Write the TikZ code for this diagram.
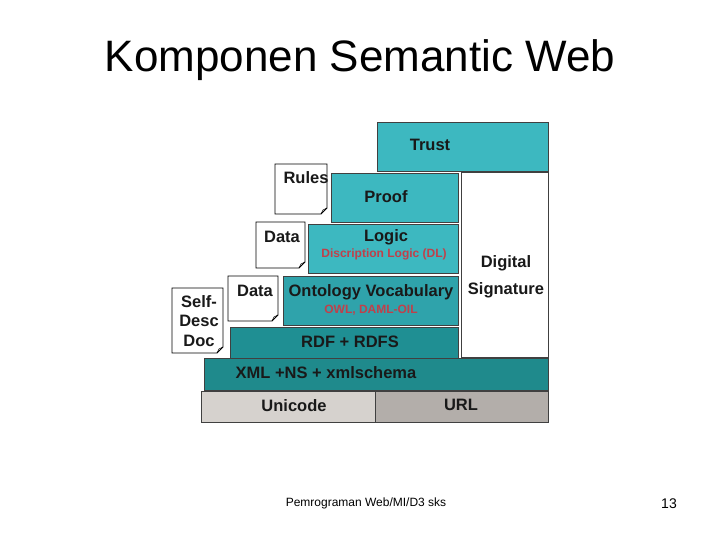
\documentclass[tikz,border=0pt]{standalone}
\usepackage{fontspec}
\setmainfont{Liberation Sans}
\definecolor{tealA}{HTML}{3DB8C0}
\definecolor{tealB}{HTML}{2FA3AB}
\definecolor{tealC}{HTML}{1F8F93}
\definecolor{tealD}{HTML}{1F8A8C}
\definecolor{greyA}{HTML}{D6D2CE}
\definecolor{greyB}{HTML}{B3AEAA}
\definecolor{subred}{HTML}{C0404A}
\tikzset{
  layer/.style={draw=black!75, line width=0.8pt},
  doc/.style={draw=black, line width=0.8pt, fill=white},
  lbl/.style={font=\fontsize{16.5}{17}\selectfont\bfseries, text=black!90, inner sep=0pt},
  sublbl/.style={font=\fontsize{12}{13}\selectfont\bfseries, text=subred, inner sep=0pt},
}
% page with a folded corner: x1,y1,x2,y2
\newcommand{\docpage}[4]{
  \draw[doc] (#1,#2) -- (#3,#2) -- (#3,#4-6) -- (#3-6,#4) -- (#1,#4) -- cycle;
  \draw[line width=0.6pt] (#3-6,#4) -- (#3-4,#4-4) -- (#3,#4-6);
}
\begin{document}
\begin{tikzpicture}[x=1pt,y=-1pt]
\useasboundingbox (0,0) rectangle (720,540);

\node (title) at (360,60) {\fontsize{44}{48}\selectfont Komponen Semantic Web};

% documents on the left
\docpage{275}{164}{327}{214}
\docpage{256}{222}{305}{268}
\docpage{228}{276}{278}{321}
\docpage{172}{288}{223}{353}

% layers
\draw[layer, fill=tealA] (377,122) rectangle (548,171);
\draw[layer, fill=white] (461,172) rectangle (548,357);
\draw[layer, fill=tealA] (331,173) rectangle (458,222);
\draw[layer, fill=tealA] (308,224) rectangle (458,273);
\draw[layer, fill=tealB] (283,276) rectangle (458,325);
\draw[layer, fill=tealC] (230,327) rectangle (458,358);
\draw[layer, fill=tealD] (204,358) rectangle (548,390);
\draw[layer, fill=greyA] (201,391) rectangle (375,422);
\draw[layer, fill=greyB] (375,391) rectangle (548,422);

\node[lbl] (trust) at (430,145) {Trust};
\node[lbl] (rules) at (306,178) {Rules};
\node[lbl] (proof) at (386,197) {Proof};
\node[lbl] (data1) at (282,237) {Data};
\node[lbl] (logic) at (386,237) {Logic};
\node[sublbl] (dl) at (384,254) {Discription Logic (DL)};
\node[lbl] (data2) at (255,291) {Data};
\node[lbl] (onto) at (371,292) {Ontology Vocabulary};
\node[sublbl] (owl) at (371,310) {OWL, DAML-OIL};
\node[lbl, align=center, font=\fontsize{16.5}{19.5}\selectfont\bfseries] (selfdesc) at (199,321) {Self-\\Desc\\Doc};
\node[lbl, align=center, font=\fontsize{16.5}{27}\selectfont\bfseries] (digsig) at (506,277) {Digital\\Signature};
\node[lbl] (rdf) at (350,342) {RDF + RDFS};
\node[lbl] (xml) at (326,373) {XML +NS + xmlschema};
\node[lbl] (unicode) at (294,406) {Unicode};
\node[lbl] (url) at (461,405) {URL};

\node (footer) at (366,503) {\fontsize{12}{14}\selectfont Pemrograman Web/MI/D3 sks};
\node (pagenum) at (669,504) {\fontsize{14}{16}\selectfont 13};
\end{tikzpicture}
\end{document}
